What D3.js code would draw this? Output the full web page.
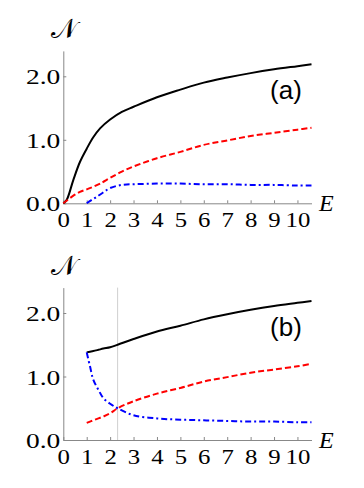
<!DOCTYPE html>
<html>
<head>
<meta charset="utf-8">
<script src="https://cdn.jsdelivr.net/npm/d3@7"></script>
<style>
  body { margin: 0; background: #fff; }
  svg { display: block; }
</style>
</head>
<body>
<div id="chart"></div>
<script>
// panel (a)
const eA = [0, 0.14, 0.43, 0.71, 1, 1.28, 1.57, 2, 2.5, 3, 4, 5, 6, 7, 8, 9, 10, 10.6];
const blackA = [0, 0.05, 0.37, 0.65, 0.86, 1.04, 1.18, 1.32, 1.44, 1.52, 1.67, 1.79, 1.90, 1.98, 2.05, 2.11, 2.16, 2.19];
const redA = [0, 0.04, 0.12, 0.18, 0.22, 0.26, 0.31, 0.40, 0.50, 0.58, 0.71, 0.81, 0.92, 0.99, 1.06, 1.11, 1.16, 1.19];
const eBlueA = [1, 1.2, 1.42, 1.7, 2, 2.5, 3, 4, 5, 6, 7, 8, 9, 10, 10.6];
const blueA = [0, 0.05, 0.10, 0.17, 0.24, 0.29, 0.30, 0.31, 0.31, 0.30, 0.30, 0.29, 0.29, 0.28, 0.28];

// panel (b)
const eB = [1, 1.14, 1.28, 1.5, 1.71, 2, 2.32, 3, 4, 5, 6, 7, 8, 9, 10, 10.6];
const blackB = [1.38, 1.39, 1.40, 1.42, 1.44, 1.46, 1.50, 1.59, 1.71, 1.80, 1.90, 1.98, 2.05, 2.11, 2.16, 2.19];
const redB = [0.27, 0.29, 0.31, 0.34, 0.37, 0.42, 0.50, 0.61, 0.73, 0.82, 0.92, 0.99, 1.06, 1.11, 1.16, 1.20];
const blueB = [1.38, 1.16, 0.95, 0.79, 0.66, 0.57, 0.50, 0.39, 0.34, 0.32, 0.31, 0.30, 0.29, 0.29, 0.28, 0.28];
const crossE = 2.32;

const xTicks = [0, 1, 2, 3, 4, 5, 6, 7, 8, 9, 10];
const yTicks = [0, 1, 2];

const width = 364, height = 488;
const serif = "Liberation Serif";

const svg = d3.select("#chart").append("svg")
    .attr("width", width)
    .attr("height", height);

const x = d3.scaleLinear().domain([0, 10.6]).range([63.3, 311.5]);

function panel(y0, name, series, vline) {
    const g = svg.append("g");
    const y = d3.scaleLinear().domain([0, 2.4]).range([y0, y0 - 2.4 * 63.5]);

    // axes, ticks pointing inward
    const xa = g.append("g")
        .attr("transform", `translate(0,${y0})`)
        .call(d3.axisBottom(x).tickValues(xTicks).tickFormat(d3.format("d"))
            .tickSizeInner(-3).tickSizeOuter(0));
    // the tick numbers are wide in the original, so stretch them a bit
    xa.selectAll("text")
        .attr("y", 0)
        .attr("dy", null)
        .attr("transform", "translate(0,24) scale(1.18,1)")
        .style("font-family", serif)
        .style("font-size", "21px")
        .attr("fill", "#000");

    const ya = g.append("g")
        .attr("transform", `translate(${x(0)},0)`)
        .call(d3.axisLeft(y).tickValues(yTicks).tickFormat(d3.format(".1f"))
            .tickSizeInner(-3).tickSizeOuter(0));
    ya.selectAll("text")
        .attr("x", 0)
        .attr("dy", null)
        .attr("transform", "translate(-3,7.5) scale(1.25,1)")
        .style("font-family", serif)
        .style("font-size", "22px")
        .attr("fill", "#000");

    g.selectAll(".domain, .tick line").attr("stroke", "#888");

    if (vline != null) {
        g.append("line")
            .attr("x1", x(vline)).attr("x2", x(vline))
            .attr("y1", y(2.4)).attr("y2", y0)
            .attr("stroke", "#cfcfcf")
            .attr("stroke-width", 1);
    }

    const line = d3.line()
        .x(d => x(d[0]))
        .y(d => y(d[1]))
        .curve(d3.curveCatmullRom.alpha(0.5));

    series.forEach(s => {
        g.append("path")
            .datum(d3.zip(s.e, s.v))
            .attr("d", line)
            .attr("fill", "none")
            .attr("stroke", s.color)
            .attr("stroke-width", 2)
            .attr("stroke-dasharray", s.dash);
    });

    // labels
    g.append("text")
        .attr("x", 51).attr("y", y0 - 165)
        .style("font-family", "DejaVu Serif")
        .style("font-size", "27px")
        .text("\u{1D4A9}");

    g.append("text")
        .attr("x", 319).attr("y", y0 + 8)
        .style("font-family", serif)
        .style("font-style", "italic")
        .style("font-size", "24px")
        .text("E");

    g.append("text")
        .attr("x", 286).attr("y", y0 - 104)
        .attr("text-anchor", "middle")
        .style("font-family", "Liberation Sans")
        .style("font-size", "26px")
        .text(name);
}

panel(203.3, "(a)", [
    {e: eA, v: blackA, color: "#000", dash: null},
    {e: eA, v: redA, color: "#f00", dash: "6,3"},
    {e: eBlueA, v: blueA, color: "#00f", dash: "6,3,2,3"}
], null);

panel(440, "(b)", [
    {e: eB, v: blackB, color: "#000", dash: null},
    {e: eB, v: redB, color: "#f00", dash: "6,3"},
    {e: eB, v: blueB, color: "#00f", dash: "6,3,2,3"}
], crossE);
</script>
</body>
</html>
